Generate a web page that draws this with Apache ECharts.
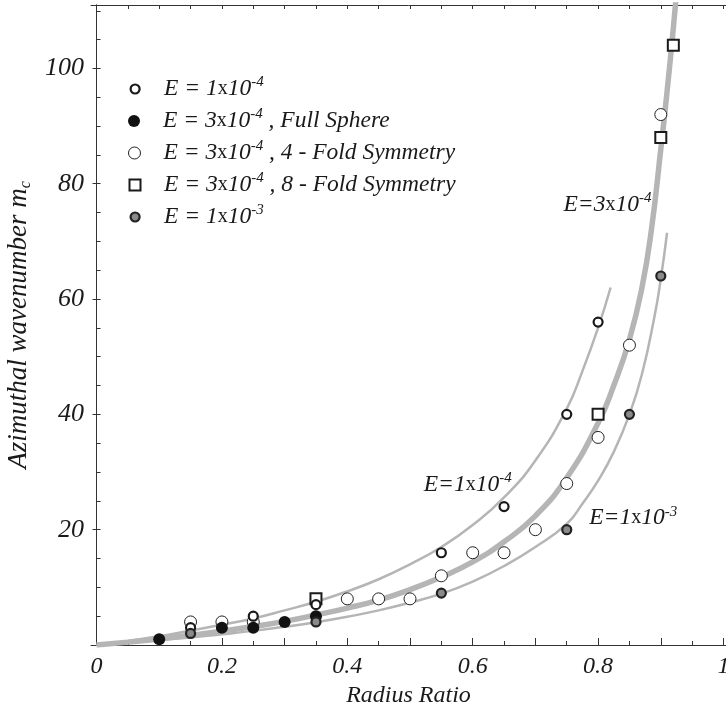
<!DOCTYPE html>
<html>
<head>
<meta charset="utf-8">
<script src="https://cdn.jsdelivr.net/npm/echarts@6/dist/echarts.min.js"></script>
<style>
  html, body { margin: 0; padding: 0; background: #fff; }
  #chart { width: 726px; height: 710px; }
</style>
</head>
<body>
<div id="chart"></div>
<script>
// axis ticks and labels
const xMinorTicks = [0, 0.05, 0.1, 0.15, 0.2, 0.25, 0.3, 0.35, 0.4, 0.45, 0.5, 0.55, 0.6, 0.65, 0.7, 0.75, 0.8, 0.85, 0.9, 0.95, 1]
const xMajorTicks = [0, 0.1, 0.2, 0.3, 0.4, 0.5, 0.6, 0.7, 0.8, 0.9, 1]
const xLabels = [0, 0.2, 0.4, 0.6, 0.8, 1]
const yTicks = [5, 10, 15, 20, 25, 30, 35, 40, 45, 50, 55, 60, 65, 70, 75, 80, 85, 90, 95, 100, 105, 110]
const yLabels = [20, 40, 60, 80, 100]

// fitted curves
const curveE1e4 = [[0, 0], [0.05, 0.7], [0.1, 1.5], [0.15, 2.5], [0.2, 3.5], [0.25, 4.6], [0.3, 6], [0.35, 7.5],
  [0.4, 9.3], [0.45, 11.4], [0.5, 14], [0.55, 17], [0.6, 20.8], [0.65, 25.6], [0.7, 32], [0.75, 41],
  [0.775, 47.5], [0.8, 55], [0.82, 62]]
const curveE3e4 = [[0, 0], [0.05, 0.5], [0.1, 1.05], [0.15, 1.7], [0.2, 2.4], [0.25, 3.2], [0.3, 4.1], [0.35, 5.2],
  [0.4, 6.4], [0.45, 7.8], [0.5, 9.6], [0.55, 11.8], [0.6, 14.4], [0.65, 17.9], [0.7, 22.4], [0.75, 29],
  [0.8, 38.5], [0.825, 45], [0.85, 53], [0.87, 62], [0.885, 72], [0.9, 86], [0.91, 96], [0.92, 107], [0.925, 113]]
const curveE1e3 = [[0, 0], [0.05, 0.4], [0.1, 0.85], [0.15, 1.3], [0.2, 1.85], [0.25, 2.45], [0.3, 3.15], [0.35, 3.95],
  [0.4, 4.9], [0.45, 6], [0.5, 7.35], [0.55, 8.9], [0.6, 11], [0.65, 13.7], [0.7, 17], [0.75, 21],
  [0.775, 24.5], [0.8, 28.5], [0.825, 33.5], [0.85, 40], [0.87, 47], [0.89, 57], [0.9, 63.5], [0.91, 71.5]]

// computed critical wavenumbers
const ptsE1e4 = [[0.15, 3], [0.25, 5], [0.35, 7], [0.55, 16], [0.65, 24], [0.75, 40], [0.8, 56]]
const ptsFullSphere = [[0.1, 1], [0.2, 3], [0.25, 3], [0.3, 4], [0.35, 5]]
const pts4Fold = [[0.15, 4], [0.2, 4], [0.25, 4], [0.4, 8], [0.45, 8], [0.5, 8], [0.55, 12], [0.6, 16], [0.65, 16],
  [0.7, 20], [0.75, 28], [0.8, 36], [0.85, 52], [0.9, 92]]
const pts8Fold = [[0.35, 8], [0.8, 40], [0.9, 88], [0.92, 104]]
const ptsE1e3 = [[0.15, 2], [0.35, 4], [0.55, 9], [0.75, 20], [0.85, 40], [0.9, 64]]

// curve annotations: [x, y, coefficient, exponent]
const curveNotes = [[0.744, 76.4, '3', '-4'], [0.521, 27.8, '1', '-4'], [0.785, 22, '1', '-3']]

const names = {
  e1e4: 'E = 1x10-4',
  full: 'E = 3x10-4, Full Sphere',
  fold4: 'E = 3x10-4, 4-Fold Symmetry',
  fold8: 'E = 3x10-4, 8-Fold Symmetry',
  e1e3: 'E = 1x10-3',
}

const SERIF = 'Liberation Serif'
const INK = '#1a1a1a'
const GREY = '#b5b5b5'

const rich = {
  t: { fontFamily: SERIF, fontStyle: 'italic', fontSize: 23.5, lineHeight: 28, color: INK },
  x: { fontFamily: SERIF, fontStyle: 'normal', fontSize: 20, lineHeight: 28, color: INK },
  s: { fontFamily: SERIF, fontStyle: 'italic', fontSize: 15, lineHeight: 14, verticalAlign: 'top', color: INK },
}

function eq(coef, exp, spaced) {
  const head = spaced ? 'E = ' + coef : 'E=' + coef
  return `{t|${head}}{x|x}{t|10}{s|${exp}}`
}

const legendText = {
  [names.e1e4]: eq('1', '-4', true),
  [names.full]: eq('3', '-4', true) + '{t| , Full Sphere}',
  [names.fold4]: eq('3', '-4', true) + '{t| , 4 - Fold Symmetry}',
  [names.fold8]: eq('3', '-4', true) + '{t| , 8 - Fold Symmetry}',
  [names.e1e3]: eq('1', '-3', true),
}

const chart = echarts.init(document.getElementById('chart'), null, { renderer: 'canvas' })

const axisFont = { fontFamily: SERIF, fontStyle: 'italic', fontSize: 24, color: INK }
const axisLine = { show: true, lineStyle: { color: '#333', width: 1 } }
const X_MIN = -0.0088, X_MAX = 1.004, Y_MAX = 111

function curve(data, width) {
  return {
    type: 'line', data, symbol: 'none', smooth: 0.5,
    lineStyle: { color: GREY, width }, silent: true, z: 1,
  }
}

function points(name, data, symbol, size, style) {
  return { name, type: 'scatter', data, symbol, symbolSize: size, itemStyle: style, silent: true, z: 3 }
}

const styles = {
  e1e4: { color: '#fff', borderColor: INK, borderWidth: 2.2, opacity: 1 },
  full: { color: '#111', borderColor: '#111', borderWidth: 0, opacity: 1 },
  fold4: { color: '#fff', borderColor: '#222', borderWidth: 1, opacity: 1 },
  fold8: { color: '#fff', borderColor: INK, borderWidth: 2, opacity: 1 },
  e1e3: { color: '#8a8a8a', borderColor: '#222', borderWidth: 2.2, opacity: 1 },
}

const legendRows = [
  ['e1e4', 89, 9, 'circle'],
  ['full', 121, 12, 'circle'],
  ['fold4', 153, 12, 'circle'],
  ['fold8', 185, 11, 'rect'],
  ['e1e3', 217, 9, 'circle'],
]

chart.setOption({
  animation: false,
  backgroundColor: '#fff',
  grid: { left: 91, right: 0, top: 5, bottom: 65, containLabel: false, outerBoundsMode: 'none' },
  legend: legendRows.map(([key, cy, size, icon]) => ({
    data: [{ name: names[key], icon, itemStyle: styles[key] }],
    left: 134 - size / 2,
    top: cy - 14,
    padding: 0,
    itemWidth: size,
    itemHeight: size,
    selectedMode: false,
    formatter: n => legendText[n],
    textStyle: { padding: [0, 0, 0, 163 - (134 + size / 2) - 5], rich },
  })),
  xAxis: [
    {
      type: 'value', position: 'bottom', min: X_MIN, max: X_MAX,
      axisLine, splitLine: { show: false },
      axisTick: { show: true, inside: true, length: 4, customValues: xMinorTicks, lineStyle: { color: '#333' } },
      axisLabel: { customValues: xLabels, margin: 10, ...axisFont },
      name: 'Radius Ratio', nameLocation: 'middle', nameGap: 36,
      nameTextStyle: { ...axisFont },
    },
    {
      type: 'value', position: 'bottom', min: X_MIN, max: X_MAX,
      axisLine: { show: false }, splitLine: { show: false }, axisLabel: { show: false },
      axisTick: { show: true, inside: true, length: 7, customValues: xMajorTicks, lineStyle: { color: '#333' } },
    },
    {
      type: 'value', position: 'top', min: X_MIN, max: X_MAX,
      axisLine, splitLine: { show: false }, axisLabel: { show: false },
      axisTick: { show: true, inside: true, length: 4, customValues: xMinorTicks, lineStyle: { color: '#333' } },
    },
  ],
  yAxis: [
    {
      type: 'value', position: 'left', min: 0, max: Y_MAX,
      axisLine, splitLine: { show: false },
      axisTick: { show: true, inside: true, length: 4, customValues: yTicks, lineStyle: { color: '#333' } },
      axisLabel: { customValues: yLabels, margin: 7, ...axisFont, fontSize: 26 },
      name: '{t|Azimuthal wavenumber m}{c|c}', nameLocation: 'middle', nameGap: 56, nameRotate: 90,
      nameTextStyle: {
        rich: {
          t: { ...axisFont, fontSize: 27, lineHeight: 30 },
          c: { ...axisFont, fontSize: 16, lineHeight: 15, verticalAlign: 'bottom' },
        },
      },
    },
    {
      type: 'value', position: 'right', min: 0, max: Y_MAX,
      axisLine, splitLine: { show: false }, axisLabel: { show: false },
      axisTick: { show: true, inside: true, length: 4, customValues: yLabels, lineStyle: { color: '#333' } },
    },
  ],
  series: [
    curve(curveE1e4, 2.5),
    curve(curveE1e3, 2.5),
    curve(curveE3e4, 5.5),
    points(names.fold4, pts4Fold, 'circle', 12, styles.fold4),
    points(names.fold8, pts8Fold, 'rect', 11, styles.fold8),
    points(names.full, ptsFullSphere, 'circle', 12, styles.full),
    points(names.e1e4, ptsE1e4, 'circle', 9, styles.e1e4),
    points(names.e1e3, ptsE1e3, 'circle', 9, styles.e1e3),
    {
      type: 'scatter', silent: true, symbolSize: 1, itemStyle: { color: 'transparent', opacity: 1 }, z: 4,
      data: curveNotes.map(([x, y, c, e]) => ({ value: [x, y], note: eq(c, e, false) })),
      label: {
        show: true, position: 'right', distance: 0,
        formatter: p => p.data.note, rich,
      },
    },
  ],
})
</script>
</body>
</html>
